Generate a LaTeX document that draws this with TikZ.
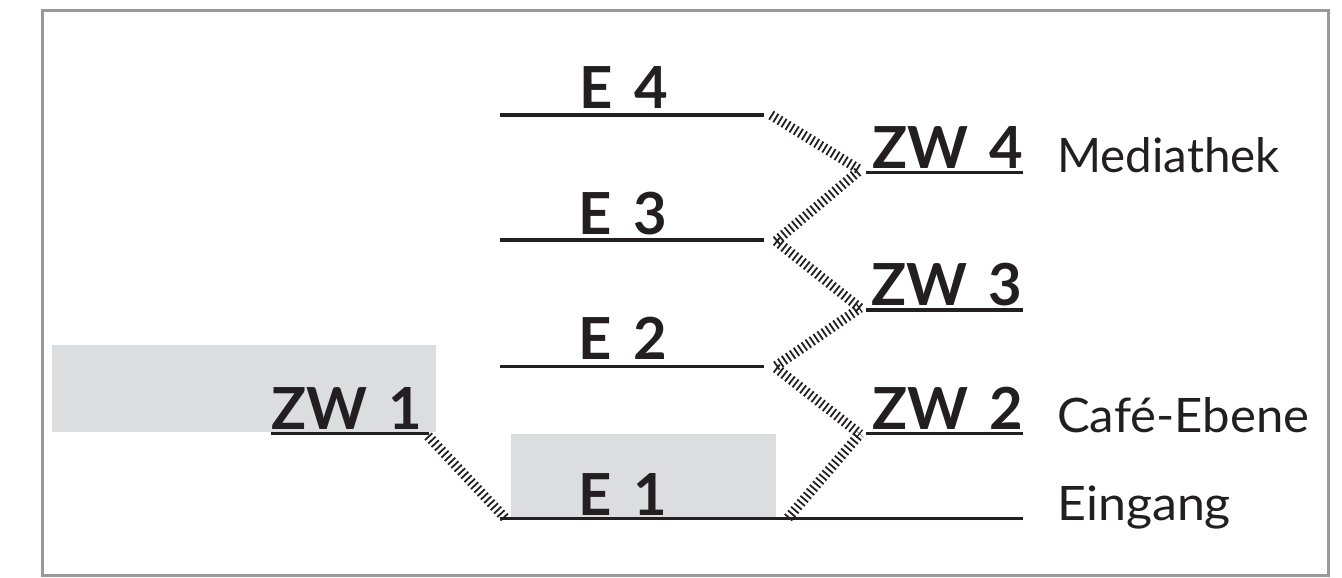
\documentclass[tikz,border=0pt]{standalone}
\usepackage{fontspec}
\setmainfont{Lato}[WordSpace=1.5]
\definecolor{ink}{HTML}{231F20}
\definecolor{shade}{HTML}{DCDDDE}
\definecolor{framec}{HTML}{999999}
\tikzset{
  floorline/.style={draw=ink,line width=3.5pt},
  stair/.style={draw=ink,line width=10pt,dash pattern=on 1.8pt off 3pt},
  flabel/.style={text=ink,font=\fontsize{58}{60}\selectfont\bfseries,anchor=base,inner sep=0pt},
  roomlabel/.style={text=ink,font=\fontsize{47.5}{50}\selectfont,anchor=base west,inner sep=0pt},
  shadebox/.style={fill=shade,draw=none},
  framebox/.style={draw=framec,line width=3pt,fill=white}
}
\begin{document}
\begin{tikzpicture}[x=1pt,y=-1pt]
\useasboundingbox (0,0) rectangle (1342,578);
\path[framebox] (42.5,10.5) rectangle (1328.5,575.5);
\path[shadebox] (52,345) rectangle (436,432);
\path[shadebox] (511,434) rectangle (776,518);
% floor lines
\coordinate (e4l) at (500,115); \coordinate (e4r) at (764,115);
\coordinate (e3l) at (500,240); \coordinate (e3r) at (764,240);
\coordinate (e2l) at (500,366.5); \coordinate (e2r) at (764,366.5);
\coordinate (e1l) at (500,518.5); \coordinate (e1r) at (1023,518.5);
\coordinate (z4l) at (866,172.5); \coordinate (z4r) at (1023,172.5);
\coordinate (z3l) at (866,310); \coordinate (z3r) at (1023,310);
\coordinate (z2l) at (866,433.5); \coordinate (z2r) at (1023,433.5);
\coordinate (z1l) at (271,433.5); \coordinate (z1r) at (429,433.5);
\foreach \a/\b in {e4l/e4r,e3l/e3r,e2l/e2r,e1l/e1r,z4l/z4r,z3l/z3r,z2l/z2r,z1l/z1r}
  \draw[floorline] (\a) -- (\b);
% stair ends
\coordinate (s4a) at (771,115); \coordinate (s4b) at (860,170);
\coordinate (s3a) at (776,241); \coordinate (s3b) at (860,170);
\coordinate (s3c) at (776,241); \coordinate (s3d) at (860,308);
\coordinate (s2a) at (776,366); \coordinate (s2b) at (860,308);
\coordinate (s2c) at (776,368); \coordinate (s2d) at (860,434);
\coordinate (s1a) at (788,518); \coordinate (s1b) at (860,434);
\coordinate (s0a) at (428,436); \coordinate (s0b) at (505,518);
\foreach \a/\b in {s4a/s4b,s3a/s3b,s3c/s3d,s2a/s2b,s2c/s2d,s1a/s1b,s0a/s0b}
  \draw[stair] (\a) -- (\b);
% labels
\node[flabel] (te4) at (624,108) {E 4};
\node[flabel] (te3) at (623,234) {E 3};
\node[flabel] (te2) at (623,359) {E 2};
\node[flabel] (te1) at (623,515) {E 1};
\node[flabel] (tz4) at (947.5,168) {ZW 4};
\node[flabel] (tz3) at (947,305) {ZW 3};
\node[flabel] (tz2) at (947.5,429) {ZW 2};
\node[flabel] (tz1) at (347,429) {ZW 1};
\node[roomlabel] (rm) at (1057,172) {Mediathek};
\node[roomlabel] (rc) at (1057,432) {\scalebox{1.033}[1]{Café-Ebene}};
\node[roomlabel] (re) at (1057,520) {\scalebox{1.055}[1]{Eingang}};
\end{tikzpicture}
\end{document}
